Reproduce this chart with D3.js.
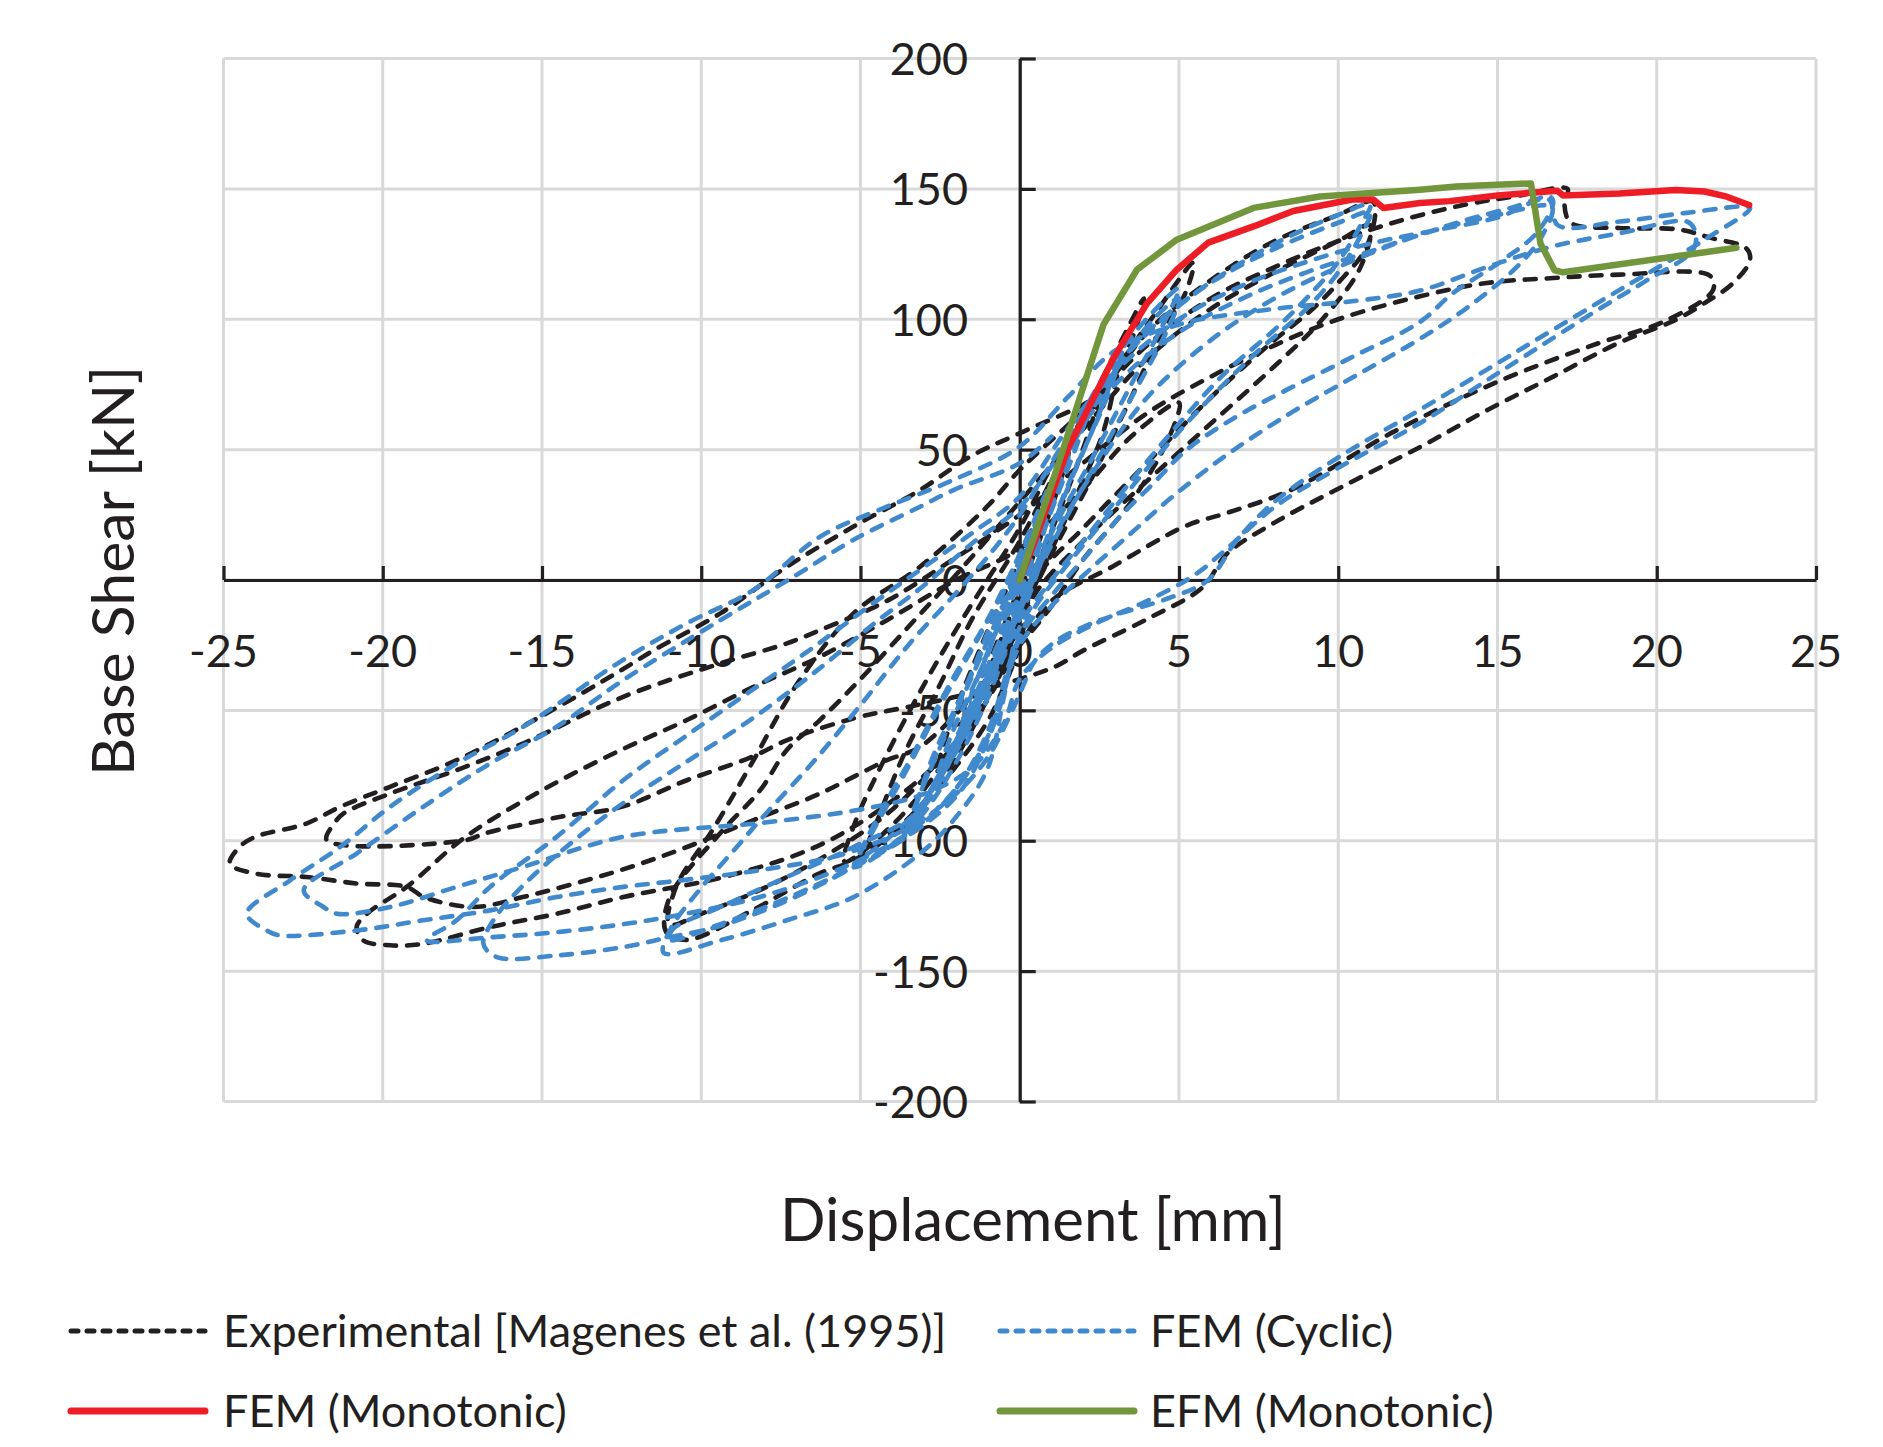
<!DOCTYPE html>
<html><head><meta charset="utf-8">
<script src="https://cdn.jsdelivr.net/npm/d3@7"></script>
<style>html,body{margin:0;padding:0;background:#fff;} svg{display:block;}</style>
</head><body>
<svg id="chart" width="1883" height="1447"></svg>
<script>
const xTicks = [-25,-20,-15,-10,-5,0,5,10,15,20,25];
const yTicks = [-200,-150,-100,-50,0,50,100,150,200];
const xTitle = "Displacement [mm]";
const yTitle = "Base Shear [kN]";
const seriesNames = ["Experimental [Magenes et al. (1995)]","FEM (Cyclic)","FEM (Monotonic)","EFM (Monotonic)"];

const experimental = [
[0,0],[0.8,28],[1.6,52],[1.2,35],[0.3,5],[-0.5,-20],[-1.3,-45],[-0.9,-30],[0,-2],[1,35],[2,62],[2.6,76],[2.2,58],[1.2,25],[0,-10],[-1,-38],[-2,-62],[-2.6,-74],[-2.2,-56],[-1.2,-25],[0,8],
[1,38],[2.3,70],[3.2,92],[3.9,108],[3.6,95],[3.1,80],[2.6,56],[1.5,25],[0,-15],[-1,-45],[-2,-68],[-3,-85],[-4,-97],[-4.8,-104],[-4.4,-90],[-3.6,-66],[-2.5,-40],[-1.5,-15],[0,15],[1.5,50],[3,80],[4.3,103],[5.45,121.7],[5.2,110],[4.5,96],[3.5,70],[2.3,40],[1,10],[0,-15],[-1,-42],[-2.5,-72],[-4,-94],[-5.5,-108],[-5.2,-94],[-4.3,-70],[-3,-40],[-1.8,-15],[0,20],
[1.2,48],[2.5,70],[4,95],[6,115],[8,130],[10,140],[11.1,145],[10.9,128],[10,114],[9.2,104],[7.8,90],[6,70],[4,45],[2,20],[0.5,0],[0,-25],[-0.5,-41],[-1,-54],[-2.1,-73],[-3.1,-87],[-4.2,-98.5],[-5.2,-107.5],[-6.3,-112.6],[-8.4,-126.7],[-10.45,-138],[-11.1,-135],[-11,-122],[-9.4,-97],[-8.15,-80.6],[-7.3,-65],[-6.3,-54],[-5,-38],[-3.5,-18],[-2,2],[0,30],[2,58],[4,85],[6,104],[8,118],[10,130],[11,136],[10.7,120],[9.5,100],[8,82],[6,60],[4,38],[2,15],[0.5,-5],[0,-20],[-1,-45],[-2,-62],[-4,-88],[-6,-105],[-8,-118],[-10,-128],[-11,-132],[-10.8,-118],[-9.6,-95],[-8.4,-70],[-7,-40],[-5.22,-12.8],[-3.13,5.1],[-1.03,28.1],[0,42.2],
[2,65],[4,90],[6,108],[8,120],[10,130],[12,138],[14,144],[15.5,147],[17.2,150],[17.1,144.6],[17.3,137],[18.8,135],[20.7,134.4],[21.7,131.2],[22.8,127.3],[22.93,122.8],[22.4,113.9],[21.5,106.2],[20.6,99.8],[18.8,90.9],[16.75,78],[14.7,65.3],[12.6,51.2],[10,35],[8,22],[6.5,10],[5.75,-2.7],[4,-15],[2,-27],[1.15,-33],[0,-38],[-2.08,-45],[-3.65,-49],[-5.2,-53],[-7.3,-61.4],[-8.4,-67.8],[-10.45,-76.8],[-12.5,-87],[-14.5,-91],[-16.8,-97.2],[-17.4,-99.8],[-21.76,-99.8],[-21.5,-93],[-21.24,-89.6],[-19.77,-81.9],[-17.68,-72.9],[-15.6,-62.7],[-12.45,-44.8],[-9.4,-32],[-7.31,-24.3],[-6.27,-19.2],[-4.17,-8],[-2.08,8],[0,25],
[2,45],[4,64],[6,78],[8,90],[10,100],[12.57,108.8],[14.66,113.9],[16.75,115.8],[18.84,117.1],[21.67,116.7],[21.77,111.3],[20.24,99.2],[18.12,90.6],[14.94,75.7],[11.75,56.9],[8.58,34.9],[6.45,25.5],[5.22,20.8],[2.92,5.2],[1,-8],[0,-25],[-1.5,-55],[-3,-75],[-6,-100],[-9,-113],[-12.45,-121.6],[-14.54,-128],[-16.63,-133.1],[-18.73,-139.5],[-19.77,-140.1],[-20.61,-138.2],[-20.82,-133.1],[-20.5,-128],[-19.25,-117.7],[-17.4,-98.5],[-14.9,-80],[-12.54,-65.3],[-10.45,-53.7],[-8.36,-41],[-6.27,-29.4],[-4.17,-15.4],[-2,0],[0,12],
[2,35],[3.5,55],[5,68],[4.7,55],[3.5,30],[2,8],[1,-10],[0,-25],[-1.5,-45],[-3.13,-64],[-4.17,-69.1],[-5.22,-75.5],[-6.27,-81.9],[-8.36,-92.1],[-10.45,-102.4],[-12.54,-111.3],[-15.6,-121.6],[-17.16,-125.4],[-18.7,-121.6],[-19.25,-117.7],[-20.8,-116.4],[-22.4,-113.9],[-24,-112.6],[-24.8,-108.8],[-24.5,-102.4],[-24,-98.5],[-22.4,-93.4],[-21.34,-87],[-19.77,-79.3],[-17.68,-69.1],[-15.06,-52.5],[-12.5,-34.5],[-11.5,-27],[-9.4,-12.8],[-7.31,5.1],[-5.22,20.5],[-3.13,34.5],[-1.56,47.3],[0,56.3],[2.1,68],[2.63,73]
];

const femCyclic = [
[0,0],[0.5,15],[0.3,8],[0,-2],[-0.6,-20],[-0.4,-12],[0,0],
[0.6,20],[1,32],[0.7,20],[0,-5],[-0.7,-25],[-1.2,-38],[-0.9,-25],[0,2],
[0.8,28],[1.5,48],[1.2,35],[0.4,8],[0,-8],[-0.9,-32],[-1.8,-55],[-1.4,-40],[-0.5,-12],[0,5],
[1,35],[2,62],[2.3,70],[1.8,52],[0.8,20],[0,-12],[-1,-38],[-2,-62],[-2.6,-76],[-2.1,-58],[-1,-28],[0,8],
[1.2,40],[2.2,66],[3,82],[2.5,64],[1.4,32],[0,-15],[-1.2,-45],[-2.4,-72],[-3.3,-90],[-2.8,-70],[-1.6,-38],[0,10],
[0.9,30],[1.8,58],[1.4,42],[0.5,12],[0,-6],[-1.1,-36],[-2.2,-66],[-3,-86],[-3.6,-98],[-3.2,-84],[-2.2,-56],[-1.1,-26],[0,6],
[1.3,45],[2.6,76],[3.3,92],[2.8,72],[1.5,36],[0,-10],[-1.3,-44],[-2.6,-76],[-3.5,-96],[-3,-78],[-1.8,-44],[-0.6,-12],[0,4],
[1.5,52],[3,85],[4.2,103],[5,112],[4.5,98],[3.5,75],[2.2,45],[1,18],[0,-12],[-1,-45],[-2,-70],[-3.2,-92],[-4.5,-106],[-5.2,-110],[-4.6,-96],[-3.6,-74],[-2.4,-46],[-1.2,-20],[0,8],
[1.5,48],[3,80],[4.2,100],[5,108],[4.6,95],[3.6,72],[2.4,45],[1.2,18],[0,-10],[-1,-42],[-2.2,-70],[-3.5,-92],[-5,-106],[-4.5,-92],[-3.4,-68],[-2.2,-40],[-1,-15],[0,10],
[1,38],[2.5,72],[4,95],[5.5,110],[7,122],[8.5,132],[10,140],[11,144],
[10.7,136],[10,122],[9,108],[8,96],[6.5,80],[5,60],[3.5,38],[2,15],[1,0],[0,-18],
[-0.5,-45],[-1.03,-72.9],[-2.08,-92.1],[-3.13,-104.9],[-5.22,-121.6],[-7.31,-130.5],[-9.4,-138.2],[-11.18,-143],
[-10.97,-134],[-10,-118],[-9,-104],[-8,-90],[-6.5,-70],[-5,-48],[-3.5,-25],[-2,-5],[-0.8,12],[0,25],
[1.5,55],[3,82],[4.5,100],[6,114],[8,127],[10,137],[11,141],
[10.7,132],[10,118],[9,104],[7.5,88],[6,70],[4.5,50],[3,28],[1.5,6],[0.5,-10],[0,-22],
[-0.8,-55],[-1.8,-80],[-3.13,-95],[-5.22,-110],[-7.31,-122],[-9.4,-132],[-11,-138],
[-10.9,-134],[-9.4,-125.4],[-7.31,-113.9],[-5.22,-102.4],[-3.13,-88.3],[-2,-65],[-1,-40],[0,-12],[1,15],[2.5,45],
[4,70],[6,92],[8,108],[10,120],[12,130],[14,138],[15.5,143],[16.65,147],
[16.75,144.6],[16.23,133.1],[15.18,122.8],[13.61,110.1],[12.57,99],[10.47,85.7],[8.38,72.9],[6.81,62.7],[5.24,49.9],[4.2,37.1],[3.15,24.3],[2,8],[1,-6],[0,-22],
[-1,-58],[-2,-80],[-3.5,-98],[-5.5,-112],[-7.5,-124],[-9.5,-133],[-11,-137],[-12.45,-140.8],[-14.54,-144],[-16.42,-144.6],[-16.84,-139.5],
[-16.5,-130],[-15.5,-116],[-14,-100],[-12.5,-86],[-10.5,-70],[-8.5,-54],[-6.5,-36],[-4.5,-16],[-3,-2],[-1.5,14],[0,28],
[1.5,52],[3,75],[5,95],[7,108],[9,118],[11,126],[13,134],[15,140],[16.7,143],
[16.4,132],[15.6,120],[14,104],[12.5,92],[10.5,78],[8.5,64],[6.5,48],[4.8,32],[3.5,18],[2.2,4],[1,-10],[0,-25],
[-1,-60],[-2,-80],[-3.5,-97],[-5.5,-110],[-8,-121],[-10.5,-128],[-12.45,-132],[-14.5,-135],[-16.6,-137],[-18.62,-138.2],
[-17.68,-130.5],[-16.63,-117.7],[-14.54,-98.5],[-12.45,-76.8],[-10.5,-60],[-8.5,-43],[-6.5,-26],[-4.5,-8],[-3,5],[-1.5,18],[0,32],
[1.5,58],[3,80],[5,100],[7,113],[9,122],[11,129],[13,134],[15,139],[16.6,146],[16.9,136],[18.84,137.5],[20.94,140.8],[22.93,142.7],
[21.67,131.8],[20.2,121],[18.84,111.3],[15.7,88.3],[12.57,65.3],[10,47],[8,30],[6.8,15],[5.92,0],[4.69,-6.9],[2.92,-13.7],[2.04,-17.8],[1.15,-23.3],[0.45,-31.5],[0.09,-41.1],[-0.26,-50.7],
[-1,-68],[-2,-82],[-3.5,-95],[-5.5,-105],[-8,-111],[-10.5,-115],[-12.45,-117.7],[-14.54,-121.6],[-16.63,-126.7],[-18.73,-130.5],[-20.82,-134.4],[-23.22,-136.3],[-23.64,-134.4],[-24.27,-128],
[-22.91,-115.2],[-21.34,-102.4],[-19.77,-87],[-17.68,-70.4],[-15.59,-56.3],[-12.5,-31],[-10.45,-16.6],[-8.36,-3.8],[-6.27,16.6],[-4.17,28.1],[-2.08,38.4],[0,51.2],
[1.5,70],[3,88],[5,98],[8,104],[10.5,107],[12.57,111],[14.66,120],[16.75,128],[18.84,133],[20.94,137.5],[21.2,134],[21.15,126.7],[19.7,115],[18.32,104.9],[15.18,80.6],[12.57,60.2],[10,43],[8,28],[6.5,12],[5.5,2],[4,-8],[2.5,-16],[1,-26],[0,-38],[-0.5,-55],
[-1.5,-72],[-3,-82],[-5,-88],[-8,-93],[-12.45,-98.5],[-15.59,-110],[-17.68,-117.7],[-19.77,-125.4],[-21.44,-128],[-21.86,-125.4],[-22.48,-119],
[-20.82,-104.9],[-18.73,-87],[-16.63,-70.4],[-14.54,-56.3],[-12.45,-38.4],[-9.4,-15.4],[-7,2],[-5.22,15.4],[-3.13,28.1],[-2.08,34.5],[0,44.8],[1,55]
];

const femMonotonic = [[0,0],[0.5,16],[1.5,50],[2.94,85],[3.99,106],[4.93,119],[5.92,129.4],[7.34,135.6],[8.59,141.5],[10.47,146],[11.1,145.9],[11.42,142.7],[12.57,144.6],[13.5,145.3],[15,147.5],[16.88,149.3],[17.06,147.5],[18.83,148.2],[20.6,149.6],[21.5,149],[22.2,147],[22.9,143.8]];

const efmMonotonic = [[0,0],[1.2,44],[2.63,98],[3.68,119],[4.93,130.5],[7.34,142.7],[9.43,147.1],[12.57,149.7],[13.7,150.9],[16.05,152.1],[16.35,129],[16.79,118.8],[17.06,118],[22.5,127.4]];

const colors = {exp:"#231f20", cyc:"#4189cd", fem:"#ee1c25", efm:"#72963b", grid:"#d9d9d9", axis:"#231f20"};
const FONT = "Lato, 'Open Sans', sans-serif";

const svg = d3.select("#chart");
svg.append("rect").attr("width",1883).attr("height",1447).attr("fill","#fff");
const x = d3.scaleLinear().domain([-25,25]).range([223.5,1816]);
const y = d3.scaleLinear().domain([-200,200]).range([1101.5,58.5]);

// gridlines
const grid = svg.append("g");
grid.selectAll("line.v").data(xTicks).join("line").attr("class","v")
  .attr("x1",d=>x(d)).attr("x2",d=>x(d)).attr("y1",y(200)).attr("y2",y(-200))
  .attr("stroke",colors.grid).attr("stroke-width",3);
grid.selectAll("line.h").data(yTicks).join("line").attr("class","h")
  .attr("x1",x(-25)).attr("x2",x(25)).attr("y1",d=>y(d)).attr("y2",d=>y(d))
  .attr("stroke",colors.grid).attr("stroke-width",3);

// axes
const xAxis = d3.axisTop(x).tickValues(xTicks).tickSize(14).tickSizeOuter(0).tickFormat("");
const yAxis = d3.axisRight(y).tickValues(yTicks).tickSize(16).tickSizeOuter(0).tickFormat("");
const gx = svg.append("g").attr("transform",`translate(0,${y(0)})`).call(xAxis);
const gy = svg.append("g").attr("transform",`translate(${x(0)},0)`).call(yAxis);
[gx,gy].forEach(g=>{
  g.selectAll("path,line").attr("stroke",colors.axis).attr("stroke-width",3.2);
});

// tick labels
svg.append("g").selectAll("text").data(xTicks).join("text")
  .attr("x",d=>x(d)).attr("y",667).attr("text-anchor","middle")
  .attr("font-family",FONT).attr("font-size",45).attr("fill","#231f20")
  .text(d=>String(d));
svg.append("g").selectAll("text").data(yTicks).join("text")
  .attr("x",968).attr("y",d=>y(d)+16.5).attr("text-anchor","end")
  .attr("font-family",FONT).attr("font-size",45).attr("fill","#231f20")
  .text(d=>String(d));

// titles
svg.append("text").attr("x",1033).attr("y",1241).attr("text-anchor","middle")
  .attr("font-family",FONT).attr("font-size",60).attr("fill","#231f20").text(xTitle);
svg.append("text").attr("transform","translate(134,571) rotate(-90)").attr("text-anchor","middle")
  .attr("font-family",FONT).attr("font-size",59).attr("fill","#231f20").text(yTitle);

// series
const smooth = d3.line().x(d=>x(d[0])).y(d=>y(d[1])).curve(d3.curveCatmullRom.alpha(0.5));
const straight = d3.line().x(d=>x(d[0])).y(d=>y(d[1]));
const plot = svg.append("g");
plot.append("path").attr("d",smooth(experimental)).attr("fill","none").attr("stroke",colors.exp)
  .attr("stroke-width",4.6).attr("stroke-dasharray","11,11").attr("stroke-linecap","round").attr("stroke-linejoin","round");
plot.append("path").attr("d",smooth(femCyclic)).attr("fill","none").attr("stroke",colors.cyc)
  .attr("stroke-width",4.6).attr("stroke-dasharray","11,11").attr("stroke-linecap","round").attr("stroke-linejoin","round");
plot.append("path").attr("d",straight(femMonotonic)).attr("fill","none").attr("stroke",colors.fem)
  .attr("stroke-width",6.5).attr("stroke-linecap","round").attr("stroke-linejoin","round");
plot.append("path").attr("d",straight(efmMonotonic)).attr("fill","none").attr("stroke",colors.efm)
  .attr("stroke-width",6.5).attr("stroke-linecap","round").attr("stroke-linejoin","round");

// legend
const legendItems = [
  {name:seriesNames[0], color:colors.exp, dash:"7,9", w:5, lx:68, ly:1331, tx:223},
  {name:seriesNames[1], color:colors.cyc, dash:"7,9", w:5, lx:997, ly:1331, tx:1150},
  {name:seriesNames[2], color:colors.fem, dash:null, w:7, lx:68, ly:1411, tx:223},
  {name:seriesNames[3], color:colors.efm, dash:null, w:7, lx:997, ly:1411, tx:1150}
];
const lg = svg.append("g");
legendItems.forEach(it=>{
  const l = lg.append("line").attr("x1",it.lx+3).attr("x2",it.lx+137).attr("y1",it.ly).attr("y2",it.ly)
    .attr("stroke",it.color).attr("stroke-width",it.w).attr("stroke-linecap","round");
  if(it.dash) l.attr("stroke-dasharray",it.dash);
  lg.append("text").attr("x",it.tx).attr("y",it.ly+16).attr("font-family",FONT).attr("font-size",45)
    .attr("fill","#231f20").text(it.name);
});
</script>
</body></html>
